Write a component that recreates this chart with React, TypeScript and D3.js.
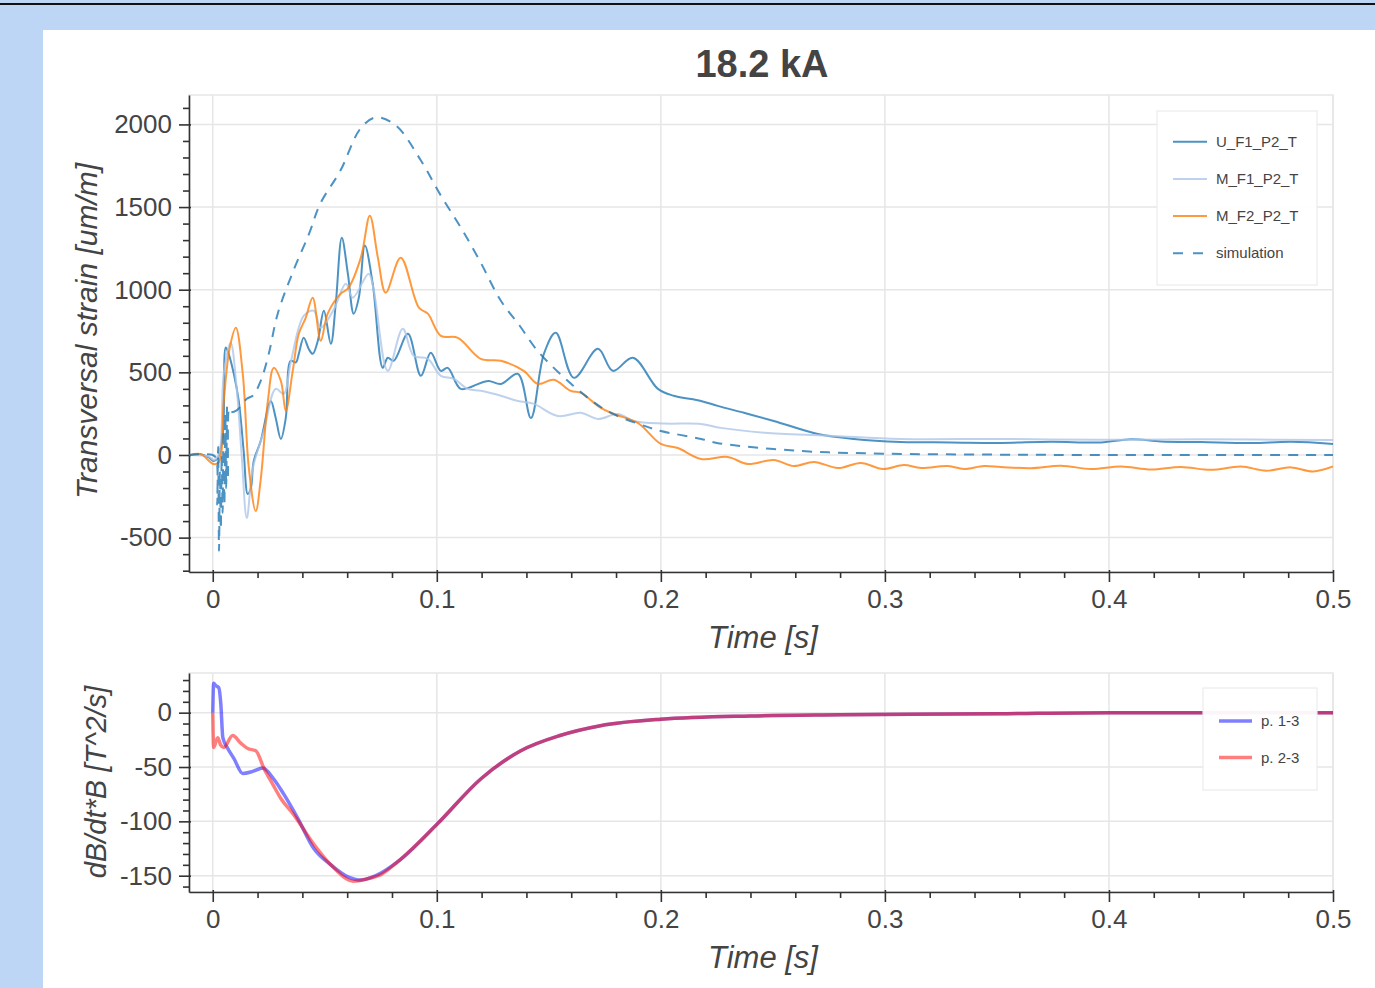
import React, { useEffect, useRef } from "react";
import * as d3 from "d3";

// ---------- data (time [s], value) ----------
const U_F1_P2_T: [number, number][] = [
  [-0.0098, 0], [-0.0054, 5], [-0.0018, -15], [0.0004, -36], [0.0022, -20], [0.0045, 127],
  [0.0058, 650], [0.0071, 612], [0.0094, 491], [0.0116, 327], [0.0138, 24], [0.0156, -236],
  [0.017, -200], [0.0183, -36], [0.0214, 85], [0.0259, 327], [0.0281, 224], [0.0304, 97],
  [0.0326, 224], [0.0348, 570], [0.0371, 560], [0.0384, 612], [0.0406, 709], [0.0429, 640],
  [0.0446, 612], [0.0469, 691], [0.0496, 873], [0.0527, 673], [0.0549, 915], [0.0576, 1315],
  [0.0603, 1097], [0.0629, 855], [0.0652, 952], [0.0679, 1267], [0.0714, 1036], [0.0759, 527],
  [0.0781, 588], [0.0808, 570], [0.0871, 733], [0.0929, 479], [0.0973, 618], [0.1018, 509],
  [0.1049, 527], [0.1107, 400], [0.1196, 436], [0.1232, 448], [0.1286, 430], [0.1362, 491],
  [0.142, 224], [0.1478, 612], [0.1531, 739], [0.1612, 467], [0.1719, 642], [0.1786, 509],
  [0.1875, 588], [0.1987, 400], [0.2058, 358], [0.2179, 327], [0.2254, 297], [0.2371, 255],
  [0.2504, 206], [0.2701, 127], [0.2862, 97], [0.3071, 79], [0.3295, 76], [0.3518, 73],
  [0.3741, 80], [0.3964, 76], [0.4098, 95], [0.4232, 82], [0.4411, 78], [0.4634, 72],
  [0.4813, 80], [0.5, 67],
];

const M_F1_P2_T: [number, number][] = [
  [-0.0098, 0], [-0.0018, -10], [0.0004, -30], [0.0027, 0], [0.0049, 491], [0.008, 679],
  [0.0107, 400], [0.0129, 0], [0.0152, -382], [0.0179, -79], [0.0228, 145], [0.0281, 400],
  [0.0317, 370], [0.0348, 560], [0.0406, 842], [0.0451, 873], [0.0482, 770], [0.054, 880],
  [0.0594, 1036], [0.0625, 952], [0.0696, 1097], [0.0719, 994], [0.0781, 509], [0.0848, 764],
  [0.0897, 600], [0.096, 582], [0.1018, 479], [0.1076, 461], [0.1138, 400], [0.1196, 388],
  [0.1286, 358], [0.1362, 327], [0.1433, 309], [0.154, 236], [0.1643, 255], [0.1719, 218],
  [0.1808, 248], [0.1879, 206], [0.2013, 190], [0.2179, 188], [0.2268, 164], [0.2478, 133],
  [0.2772, 115], [0.3071, 97], [0.3518, 97], [0.3964, 92], [0.4411, 95], [0.5, 90],
];

const M_F2_P2_T: [number, number][] = [
  [-0.0098, 0], [-0.0054, 5], [0.0004, -55], [0.0027, -45], [0.0049, 327], [0.0076, 650],
  [0.0103, 770], [0.0134, 491], [0.0161, -79], [0.0192, -339], [0.0214, -150], [0.0246, 327],
  [0.0272, 527], [0.0304, 448], [0.0326, 267], [0.0357, 509], [0.0384, 733], [0.0415, 830],
  [0.0446, 952], [0.0482, 691], [0.0513, 855], [0.0571, 976], [0.0603, 1006], [0.0661, 1194],
  [0.0701, 1448], [0.0737, 1194], [0.0772, 982], [0.0839, 1194], [0.092, 891], [0.096, 855],
  [0.1018, 721], [0.1094, 709], [0.1196, 582], [0.1286, 570], [0.1388, 509], [0.1451, 430],
  [0.1522, 455], [0.1598, 388], [0.1643, 376], [0.1732, 285], [0.179, 248], [0.1897, 194],
  [0.2, 67], [0.2076, 42], [0.2179, -24], [0.2299, -12], [0.2388, -55], [0.2504, -30],
  [0.2594, -67], [0.2683, -42], [0.279, -79], [0.2893, -48], [0.2991, -85], [0.3085, -61],
  [0.3161, -79], [0.3281, -67], [0.3353, -85], [0.3442, -67], [0.3518, -73], [0.3652, -80],
  [0.3786, -65], [0.392, -85], [0.4054, -70], [0.4188, -88], [0.4321, -72], [0.4455, -90],
  [0.4589, -70], [0.4701, -95], [0.4813, -75], [0.4911, -100], [0.5, -70],
];

const SIMULATION: [number, number][] = [
  [-0.0106, 0], [0.0, 0], [0.0015, -20], [0.002, -300], [0.0024, 50], [0.0028, -580],
  [0.0032, -100], [0.0036, -450], [0.004, 0], [0.0044, -350], [0.0048, 150], [0.0052, -300],
  [0.0056, 250], [0.006, -200], [0.0064, 300], [0.0068, -150], [0.0072, 280], [0.0078, 260],
  [0.0107, 270], [0.0152, 340], [0.018, 360], [0.0214, 448], [0.025, 612], [0.029, 855],
  [0.036, 1115], [0.043, 1339], [0.048, 1521], [0.057, 1721], [0.066, 1976], [0.0728, 2042],
  [0.0817, 1994], [0.0929, 1782], [0.1018, 1570], [0.111, 1370], [0.1196, 1164], [0.1286, 933],
  [0.137, 782], [0.145, 630], [0.161, 418], [0.176, 267], [0.194, 170], [0.2, 145],
  [0.218, 97], [0.225, 73], [0.2625, 24], [0.3, 8], [0.35, 2], [0.4, 0], [0.5, 0],
];

const P13: [number, number][] = [
  [0, 0], [0.0004, 27], [0.0013, 25], [0.0027, 23], [0.0036, 8], [0.0045, -23], [0.0067, -33],
  [0.0094, -42], [0.0134, -56], [0.0179, -54], [0.0223, -51], [0.0272, -61], [0.0317, -75],
  [0.0379, -97], [0.0451, -125], [0.0527, -140], [0.0603, -151], [0.0661, -154], [0.0737, -149],
  [0.0826, -137], [0.1004, -102], [0.1196, -61], [0.1375, -35], [0.155, -21], [0.173, -12],
  [0.2, -6], [0.24, -3], [0.28, -2], [0.35, -1], [0.4, 0], [0.5, 0],
];

const P23: [number, number][] = [
  [0, 0], [0.0004, -32], [0.0022, -23], [0.0036, -30], [0.0049, -32], [0.0089, -21],
  [0.0125, -28], [0.0156, -33], [0.0192, -35], [0.0228, -51], [0.0268, -66], [0.0304, -79],
  [0.0362, -94], [0.0451, -121], [0.0527, -140], [0.0629, -155], [0.0688, -153], [0.075, -149],
  [0.0826, -137], [0.1004, -102], [0.1196, -61], [0.1375, -35], [0.155, -21], [0.173, -12],
  [0.2, -6], [0.24, -3], [0.28, -2], [0.35, -1], [0.4, 0], [0.5, 0],
];

const X_TICKS = [0, 0.1, 0.2, 0.3, 0.4, 0.5];
const TOP_Y_TICKS = [-500, 0, 500, 1000, 1500, 2000];
const BOT_Y_TICKS = [-150, -100, -50, 0];

const TITLE = "18.2 kA";
const X_LABEL = "Time [s]";
const TOP_Y_LABEL = "Transversal strain [um/m]";
const BOT_Y_LABEL = "dB/dt*B [T^2/s]";

const TOP_SERIES = [
  { name: "U_F1_P2_T", data: U_F1_P2_T, color: "#1f77b4", dash: null as string | null },
  { name: "M_F1_P2_T", data: M_F1_P2_T, color: "#aec7e8", dash: null },
  { name: "M_F2_P2_T", data: M_F2_P2_T, color: "#ff7f0e", dash: null },
  { name: "simulation", data: SIMULATION, color: "#1f77b4", dash: "10,8" },
];
const BOT_SERIES = [
  { name: "p. 1-3", data: P13, color: "#0000ff" },
  { name: "p. 2-3", data: P23, color: "#ff0000" },
];

const FONT = "'Liberation Sans', Arial, Helvetica, sans-serif";

export default function App() {
  const ref = useRef<SVGSVGElement | null>(null);

  useEffect(() => {
    const svg = d3.select(ref.current);
    svg.selectAll("*").remove();
    const W = 1375, H = 988;

    // background
    svg.append("rect").attr("width", W).attr("height", H).attr("fill", "#bdd6f6");
    svg.append("rect").attr("x", 0).attr("y", 3).attr("width", W).attr("height", 2).attr("fill", "#111");
    svg.append("rect").attr("x", 43).attr("y", 30).attr("width", W - 43).attr("height", H - 30).attr("fill", "#fff");

    svg.append("text").attr("x", 762).attr("y", 77).attr("text-anchor", "middle")
      .attr("font-family", FONT).attr("font-size", 38).attr("font-weight", "bold").attr("fill", "#444")
      .text(TITLE);

    const x = d3.scaleLinear().domain([-0.0106, 0.5]).range([189, 1333]);
    const minorX = d3.range(0, 0.5001, 0.02).map((v) => +v.toFixed(3)).filter((v) => !X_TICKS.some((t) => Math.abs(t - v) < 1e-6));

    function panel(top: number, bottom: number, yDomain: [number, number], yTicks: number[], minorStep: number, id: string) {
      const y = d3.scaleLinear().domain(yDomain).range([bottom, top]);
      const g = svg.append("g");
      // grid
      const grid = g.append("g").attr("stroke", "#e6e6e6").attr("stroke-width", 1.5);
      X_TICKS.forEach((t) => grid.append("line").attr("x1", x(t)).attr("x2", x(t)).attr("y1", top).attr("y2", bottom));
      yTicks.forEach((t) => grid.append("line").attr("x1", 189).attr("x2", 1333).attr("y1", y(t)).attr("y2", y(t)));
      g.append("rect").attr("x", 189).attr("y", top).attr("width", 1333 - 189).attr("height", bottom - top)
        .attr("fill", "none").attr("stroke", "#e6e6e6").attr("stroke-width", 1.5);
      svg.append("clipPath").attr("id", id).append("rect").attr("x", 189).attr("y", top).attr("width", 1333 - 189).attr("height", bottom - top);

      const minorY = d3.range(Math.ceil(yDomain[0] / minorStep) * minorStep, yDomain[1], minorStep)
        .filter((v) => !yTicks.includes(v));

      // axes
      const xa = g.append("g").attr("transform", `translate(0,${bottom})`)
        .call(d3.axisBottom(x).tickValues(X_TICKS).tickSize(10).tickSizeOuter(0).tickPadding(8)
          .tickFormat((d) => String(d)));
      g.append("g").attr("transform", `translate(0,${bottom})`)
        .call(d3.axisBottom(x).tickValues(minorX).tickSize(6).tickSizeOuter(0).tickFormat(() => ""))
        .select(".domain").remove();
      const ya = g.append("g").attr("transform", `translate(189,0)`)
        .call(d3.axisLeft(y).tickValues(yTicks).tickSize(10).tickSizeOuter(0).tickPadding(7)
          .tickFormat((d) => String(d)));
      g.append("g").attr("transform", `translate(189,0)`)
        .call(d3.axisLeft(y).tickValues(minorY).tickSize(6).tickSizeOuter(0).tickFormat(() => ""))
        .select(".domain").remove();
      xa.selectAll(".tick line").attr("y1", -2);
      ya.selectAll(".tick line").attr("x1", 2);
      g.selectAll(".domain, .tick line").attr("stroke", "#333").attr("stroke-width", 1.6);
      g.selectAll(".tick text").attr("font-family", FONT).attr("font-size", 26).attr("fill", "#444");
      // x label
      g.append("text").attr("x", 763).attr("y", bottom + 76).attr("text-anchor", "middle")
        .attr("font-family", FONT).attr("font-size", 31).attr("font-style", "italic").attr("fill", "#444")
        .text(X_LABEL);
      return { y, g };
    }

    // ---- top panel ----
    const topP = panel(95, 572, [-708, 2178], TOP_Y_TICKS, 100, "clipTop");
    svg.append("text").attr("transform", `translate(97,331) rotate(-90)`).attr("text-anchor", "middle")
      .attr("font-family", FONT).attr("font-size", 30).attr("font-style", "italic").attr("fill", "#444")
      .text(TOP_Y_LABEL);
    const lineTop = d3.line<[number, number]>().x((d) => x(d[0])).y((d) => topP.y(d[1]))
      .curve(d3.curveCatmullRom.alpha(0.5));
    const topLines = svg.append("g").attr("clip-path", "url(#clipTop)");
    TOP_SERIES.forEach((s) => {
      topLines.append("path").attr("d", lineTop(s.data) || "").attr("fill", "none")
        .attr("stroke", s.color).attr("stroke-opacity", 0.8).attr("stroke-width", 2)
        .attr("stroke-linejoin", "round").attr("stroke-dasharray", s.dash);
    });
    // legend
    const lg = svg.append("g");
    lg.append("rect").attr("x", 1157).attr("y", 111).attr("width", 160).attr("height", 174)
      .attr("fill", "#fff").attr("fill-opacity", 0.95).attr("stroke", "#ececec").attr("stroke-width", 1.2);
    TOP_SERIES.forEach((s, i) => {
      const yy = 141.7 + i * 37.2;
      lg.append("line").attr("x1", 1173).attr("x2", 1207).attr("y1", yy).attr("y2", yy)
        .attr("stroke", s.color).attr("stroke-opacity", 0.8).attr("stroke-width", 2)
        .attr("stroke-dasharray", s.dash ? "10,10" : null);
      lg.append("text").attr("x", 1216).attr("y", yy + 5).attr("font-family", FONT).attr("font-size", 15)
        .attr("fill", "#444").text(s.name);
    });

    // ---- bottom panel ----
    const botP = panel(673, 892, [-165, 36.5], BOT_Y_TICKS, 10, "clipBot");
    svg.append("text").attr("transform", `translate(106,782) rotate(-90)`).attr("text-anchor", "middle")
      .attr("font-family", FONT).attr("font-size", 29).attr("font-style", "italic").attr("fill", "#444")
      .text(BOT_Y_LABEL);
    const lineBot = d3.line<[number, number]>().x((d) => x(d[0])).y((d) => botP.y(d[1]))
      .curve(d3.curveMonotoneX);
    const botLines = svg.append("g").attr("clip-path", "url(#clipBot)");
    BOT_SERIES.forEach((s) => {
      botLines.append("path").attr("d", lineBot(s.data) || "").attr("fill", "none")
        .attr("stroke", s.color).attr("stroke-opacity", 0.5).attr("stroke-width", 3.5)
        .attr("stroke-linejoin", "round");
    });
    const lg2 = svg.append("g");
    lg2.append("rect").attr("x", 1203).attr("y", 688).attr("width", 114).attr("height", 102)
      .attr("fill", "#fff").attr("fill-opacity", 0.95).attr("stroke", "#ececec").attr("stroke-width", 1.2);
    BOT_SERIES.forEach((s, i) => {
      const yy = 721 + i * 36.5;
      lg2.append("line").attr("x1", 1219).attr("x2", 1252).attr("y1", yy).attr("y2", yy)
        .attr("stroke", s.color).attr("stroke-opacity", 0.5).attr("stroke-width", 3.5);
      lg2.append("text").attr("x", 1261).attr("y", yy + 5).attr("font-family", FONT).attr("font-size", 15)
        .attr("fill", "#444").text(s.name);
    });
  }, []);

  return (
    <svg ref={ref} width={1375} height={988}
      style={{ position: "absolute", left: 0, top: 0, display: "block" }} />
  );
}
